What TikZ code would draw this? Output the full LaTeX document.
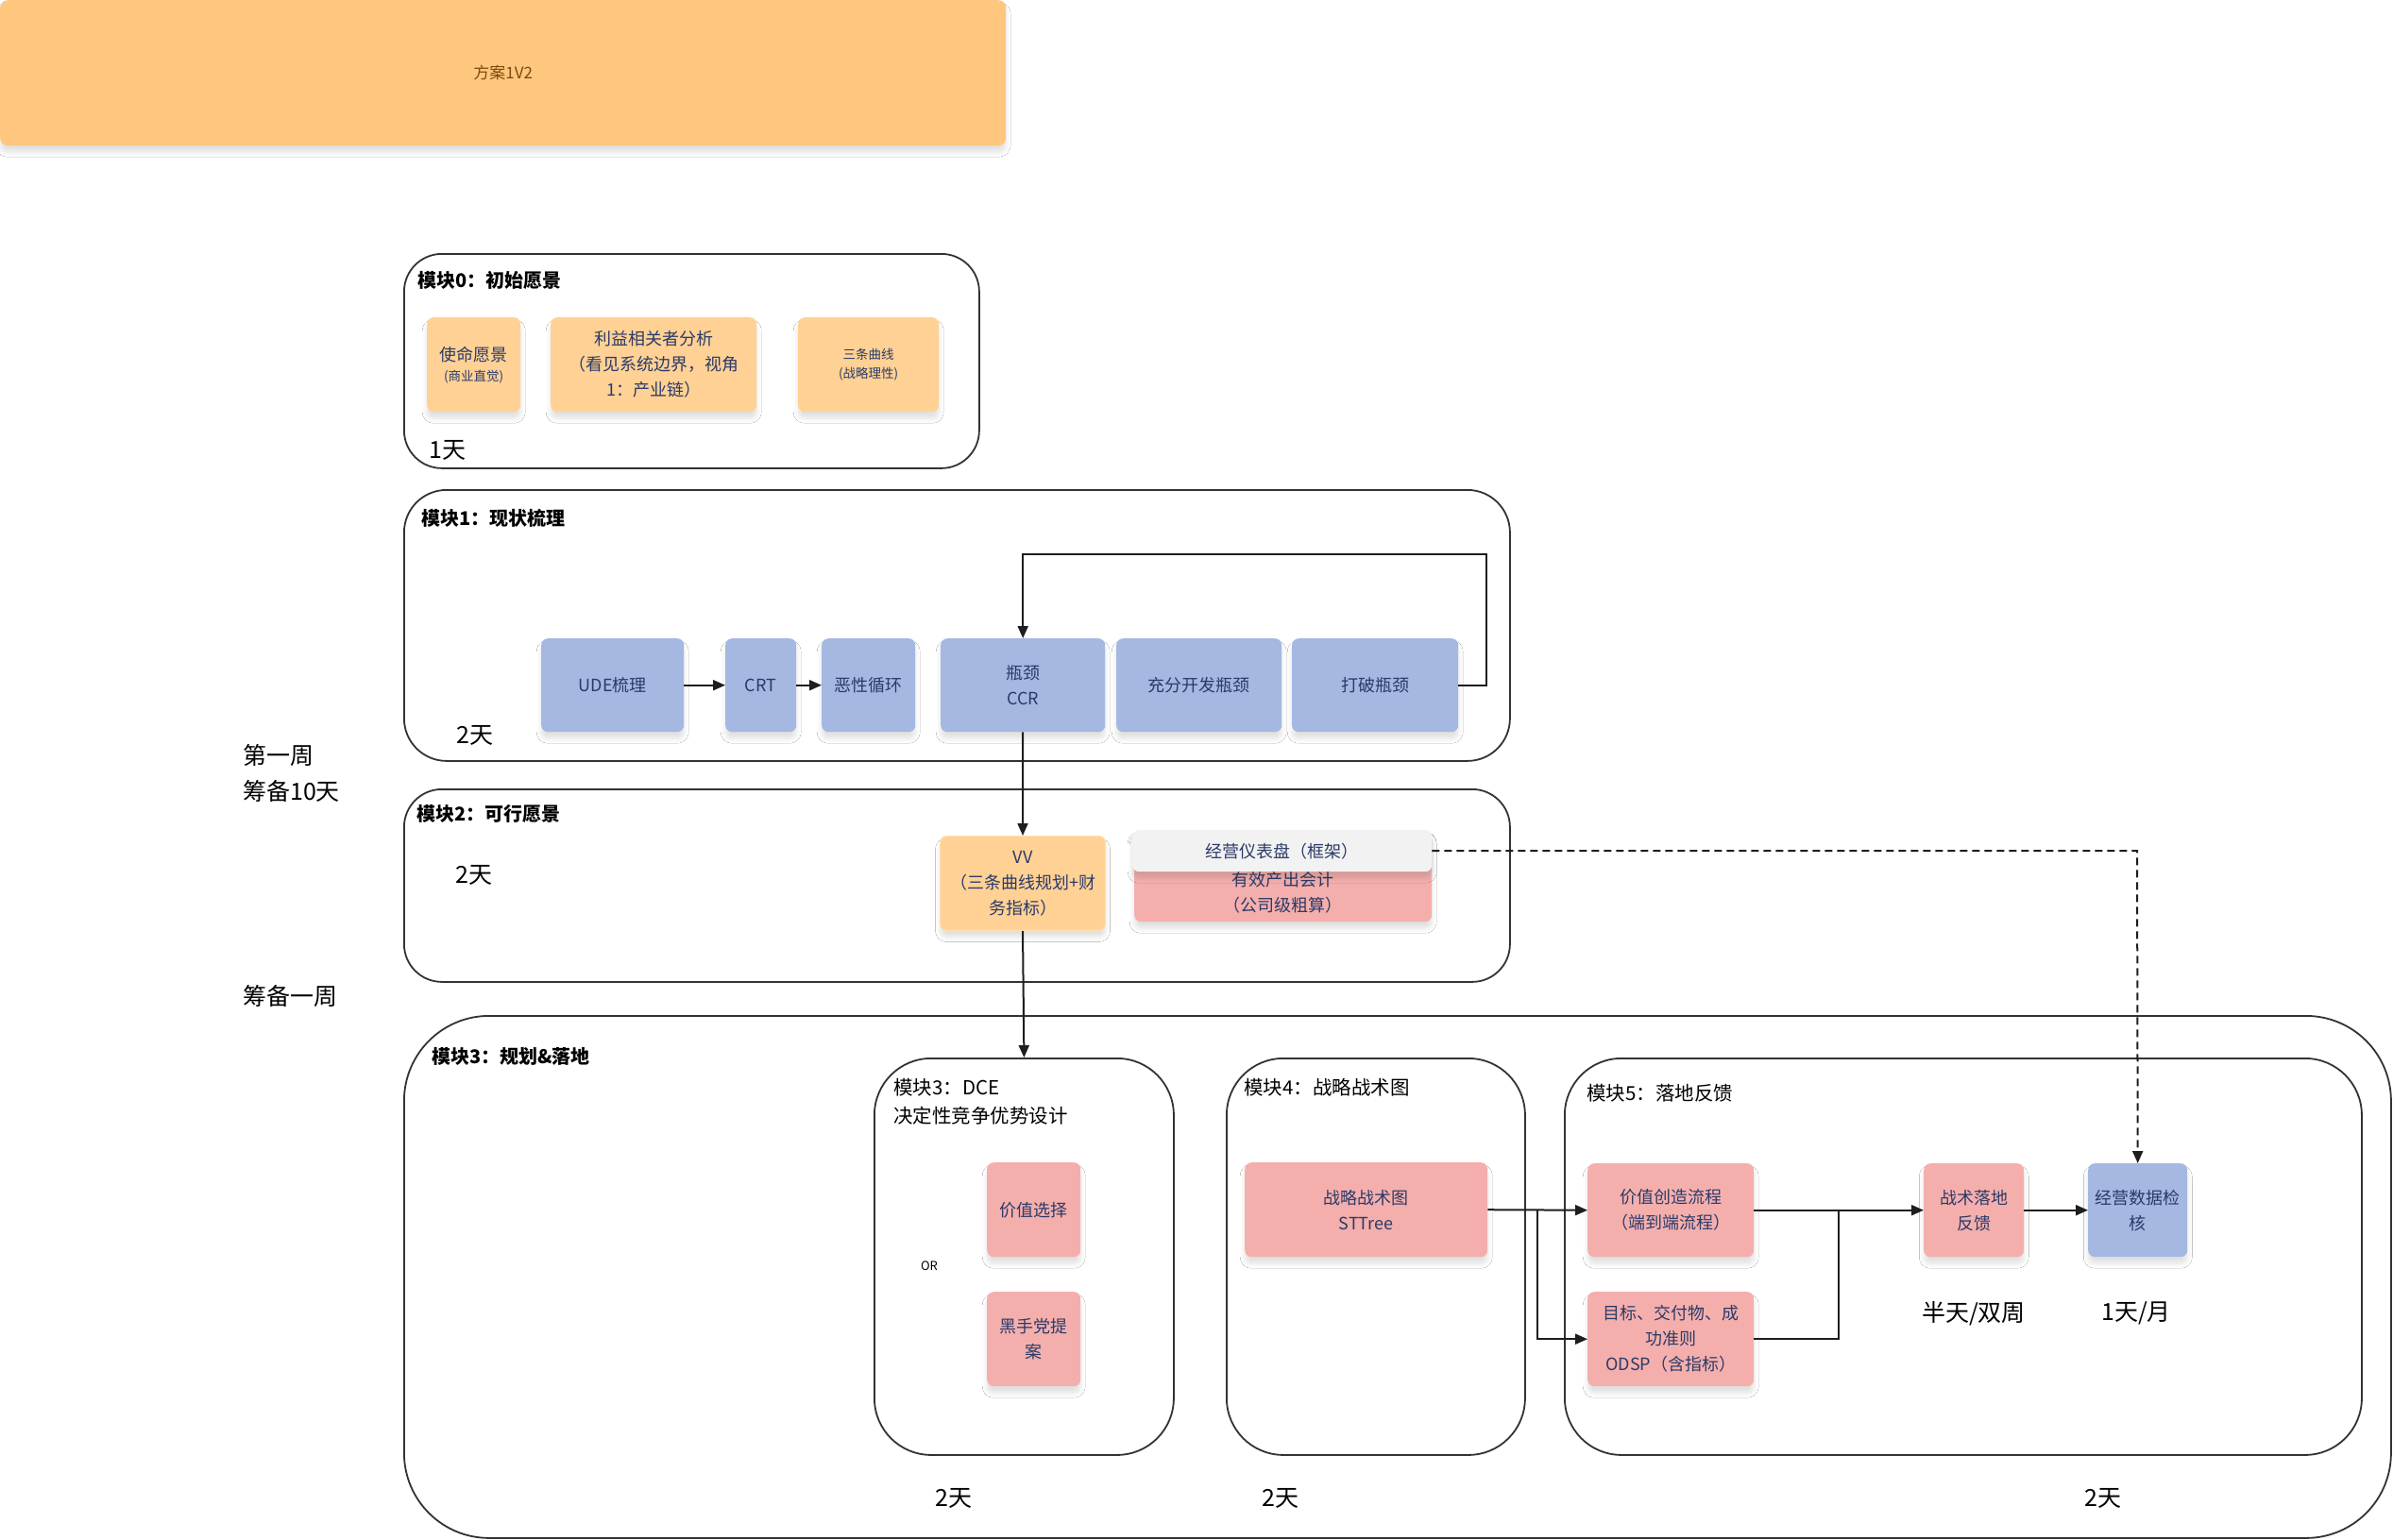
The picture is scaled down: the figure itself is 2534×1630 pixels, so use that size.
\documentclass[tikz,border=0pt]{standalone}
\usepackage{fontspec}
\setmainfont{Noto Sans CJK SC}
\usetikzlibrary{arrows.meta,shadows,shadows.blur}
\definecolor{bannerC}{HTML}{FFC67D}
\definecolor{bannerT}{HTML}{7A4A0E}
\definecolor{orangeB}{HTML}{FFD194}
\definecolor{blueB}{HTML}{A4B8E1}
\definecolor{pinkB}{HTML}{F4AFAD}
\definecolor{greyB}{HTML}{F2F2F2}
\definecolor{navyT}{HTML}{2B3A68}
\definecolor{lineC}{HTML}{333333}
\definecolor{arrC}{HTML}{1E1E1E}
\newcommand\bxf{\fontsize{18}{27}\selectfont}
\newcommand\smf{\fontsize{13.5}{20}\selectfont}
\newcommand\ttlf{\fontsize{20}{24}\selectfont\bfseries}
\newcommand\subf{\fontsize{20.5}{30}\selectfont}
\newcommand\bigf{\fontsize{25}{38}\selectfont}
\begin{document}
\begin{tikzpicture}[x=1pt,y=-1pt,
  cont/.style={draw=lineC, line width=1.8pt, anchor=north west, inner sep=0pt},
  softshadow/.style={blur shadow={shadow blur steps=6, shadow xshift=0pt, shadow yshift=-7pt, shadow blur radius=5pt, shadow opacity=12}},
  box/.style={anchor=north west, inner sep=0pt, rounded corners=7pt, align=center,
    text=navyT, font=\bxf, softshadow},
  ttl/.style={anchor=west, inner sep=0pt, font=\ttlf, text=black},
  subttl/.style={anchor=west, inner sep=0pt, font=\subf, text=black, align=left},
  dur/.style={inner sep=0pt, font=\bigf, text=black},
  arr/.style={draw=arrC, line width=2pt, -{Triangle[length=13pt,width=11pt]}},
  plain/.style={draw=arrC, line width=2pt},
  dsh/.style={draw=arrC, line width=2pt, dash pattern=on 8pt off 5pt, -{Triangle[length=13pt,width=11pt]}}
]
\useasboundingbox (0,0) rectangle (2534,1630);
\fill[white] (0,0) rectangle (2534,1630);

% banner
\node (banner) [anchor=north west, inner sep=0pt, fill=bannerC, rounded corners=8pt,
  minimum width=1065pt, minimum height=154pt, text=bannerT, font=\fontsize{17}{20}\selectfont,
  softshadow] at (0,0) {方案1V2};

% left notes
\node (wk1) [anchor=west, inner sep=0pt, font=\bigf, align=left] at (257,819) {第一周\\筹备10天};
\node (wkp) [anchor=west, inner sep=0pt, font=\bigf] at (257,1055) {筹备一周};

% module 0
\node (m0) [cont, rounded corners=40pt, minimum width=609pt, minimum height=227pt] at (427,268) {};
\node (m0t) [ttl] at (442,297) {模块0：初始愿景};
\node (b01) [box, fill=orangeB, minimum width=99pt, minimum height=100pt] at (452,336)
  {使命愿景\\[-6pt]{\smf (商业直觉)}};
\node (b02) [box, fill=orangeB, minimum width=218pt, minimum height=100pt] at (583,336)
  {利益相关者分析\\（看见系统边界，视角\\1：产业链）};
\node (b03) [box, fill=orangeB, minimum width=149pt, minimum height=100pt, font=\smf] at (845,336)
  {三条曲线\\(战略理性)};
\node (m0d) [dur] at (474,477) {1天};

% module 1
\node (m1) [cont, rounded corners=45pt, minimum width=1171pt, minimum height=287pt] at (427,518) {};
\node (m1t) [ttl] at (446,549) {模块1：现状梳理};
\node (ude) [box, fill=blueB, minimum width=151pt, minimum height=99pt] at (573,676) {UDE梳理};
\node (crt) [box, fill=blueB, minimum width=75pt, minimum height=99pt] at (768,676) {CRT};
\node (evil) [box, fill=blueB, minimum width=99pt, minimum height=99pt] at (870,676) {恶性循环};
\node (ccr) [box, fill=blueB, minimum width=174pt, minimum height=99pt] at (996,676) {瓶颈\\CCR};
\node (exp) [box, fill=blueB, minimum width=175pt, minimum height=99pt] at (1182,676) {充分开发瓶颈};
\node (brk) [box, fill=blueB, minimum width=176pt, minimum height=99pt] at (1368,676) {打破瓶颈};
\node (m1d) [dur] at (503,779) {2天};
\draw[arr] (ude.east) -- (crt.west);
\draw[arr] (crt.east) -- (evil.west);
\coordinate (loopR) at (1574,587);
\draw[arr] (brk.east) -| (loopR) -| (ccr.north);

% module 2
\node (m2) [cont, rounded corners=40pt, minimum width=1171pt, minimum height=204pt] at (427,835) {};
\node (m2t) [ttl] at (441,862) {模块2：可行愿景};
\node (m2d) [dur] at (502,927) {2天};
\node (vv) [box, fill=orangeB, draw=orangeB!70!white, line width=1pt, minimum width=175pt, minimum height=100pt] at (995,885)
  {VV\\（三条曲线规划+财\\务指标）};
\node (eff) [box, fill=pinkB, minimum width=315pt, minimum height=96pt] at (1201,880) {};
\node (effT) [inner sep=0pt, font=\bxf, text=navyT, align=center] at (1358,945) {有效产出会计\\（公司级粗算）};
\node (dash) [box, fill=greyB, minimum width=317pt, minimum height=44pt] at (1199,879) {经营仪表盘（框架）};
\draw[arr] (ccr.south) -- (vv.north);

% module 3 big
\node (m3) [cont, rounded corners=90pt, minimum width=2104pt, minimum height=553pt] at (427,1075) {};
\node (m3t) [ttl] at (457,1119) {模块3：规划\&落地};

% DCE
\node (dce) [cont, rounded corners=60pt, minimum width=317pt, minimum height=420pt] at (925,1120) {};
\node (dcet) [subttl] at (946,1167) {模块3：DCE\\决定性竞争优势设计};
\node (val) [box, fill=pinkB, minimum width=99pt, minimum height=100pt] at (1045,1231) {价值选择};
\node (maf) [box, fill=pinkB, minimum width=99pt, minimum height=100pt] at (1045,1368) {黑手党提\\案};
\node (or) [inner sep=0pt, font=\fontsize{13}{16}\selectfont] at (984,1341) {OR};
\draw[arr] (vv.south) -- (dce.north);

% module 4
\node (m4) [cont, rounded corners=60pt, minimum width=316pt, minimum height=420pt] at (1298,1120) {};
\node (m4t) [subttl] at (1317,1152) {模块4：战略战术图};
\node (st) [box, fill=pinkB, minimum width=257pt, minimum height=100pt] at (1318,1231) {战略战术图\\STTree};

% module 5
\node (m5) [cont, rounded corners=60pt, minimum width=844pt, minimum height=420pt] at (1656,1120) {};
\node (m5t) [subttl] at (1680,1158) {模块5：落地反馈};
\node (vc) [box, fill=pinkB, minimum width=176pt, minimum height=99pt] at (1681,1232) {价值创造流程\\（端到端流程）};
\node (goal) [box, fill=pinkB, minimum width=176pt, minimum height=100pt] at (1681,1368) {目标、交付物、成\\功准则\\ODSP（含指标）};
\node (tac) [box, fill=pinkB, minimum width=106pt, minimum height=99pt] at (2037,1232) {战术落地\\反馈};
\node (chk) [box, fill=blueB, minimum width=105pt, minimum height=99pt] at (2211,1232) {经营数据检\\核};
\node (tacd) [dur] at (2090,1391) {半天/双周};
\node (chkd) [dur] at (2262,1391) {1天/月};

\coordinate (brA) at (1628,1281);
\coordinate (join) at (1947,1281);
\draw[arr] (st.east) -- (vc.west);
\draw[arr] (brA) |- (goal.west);
\draw[arr] (vc.east) -- (tac.west);
\draw[plain] (goal.east) -| (join);
\draw[arr] (tac.east) -- (chk.west);

\coordinate (dashR) at (2263,901);
\draw[dsh] (dash.east) -- (dashR) -- (chk.north);

% bottom durations
\node (d1) [dur] at (1010,1587) {2天};
\node (d2) [dur] at (1356,1587) {2天};
\node (d3) [dur] at (2227,1587) {2天};
\end{tikzpicture}
\end{document}
